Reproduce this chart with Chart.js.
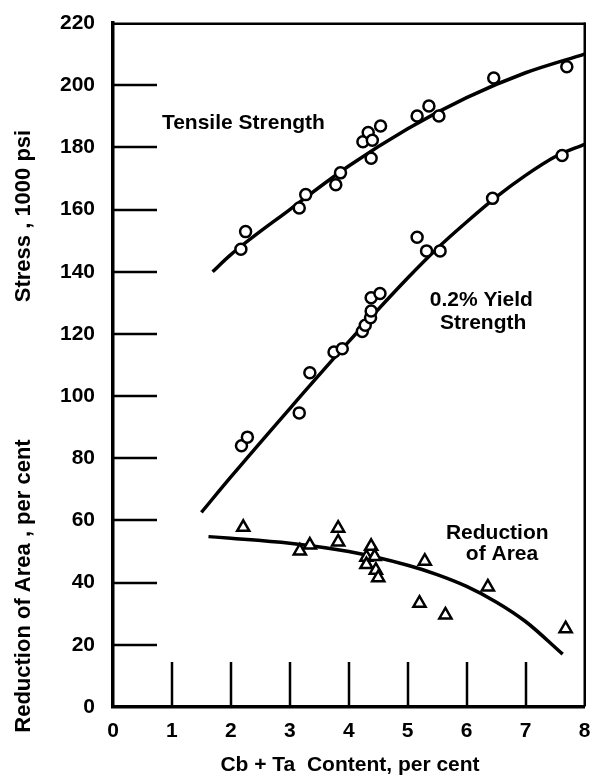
<!DOCTYPE html>
<html>
<head>
<meta charset="utf-8">
<script src="https://cdn.jsdelivr.net/npm/chart.js@4"></script>
<style>
  html, body { margin: 0; padding: 0; background: #fff; }
  #wrap { width: 594px; height: 776px; }
</style>
</head>
<body>
<div id="wrap"><canvas id="chart" width="594" height="776"></canvas></div>
<script>
// axis ticks
const xTicks = [0, 1, 2, 3, 4, 5, 6, 7, 8];
const yTicks = [0, 20, 40, 60, 80, 100, 120, 140, 160, 180, 200, 220];

// tensile strength (1000 psi), circles
const tensileX = [2.17, 2.25, 3.16, 3.27, 3.78, 3.86, 4.24, 4.33, 4.38, 4.40, 4.54, 5.16, 5.36, 5.53, 6.46, 7.70];
const tensileY = [147.2, 152.9, 160.5, 164.8, 168, 171.8, 181.8, 184.8, 176.5, 182.3, 186.9, 190.1, 193.3, 190.1, 202.3, 205.9];
const tensileCurveX = [1.69, 2, 3, 4, 5, 6, 7, 8];
const tensileCurveY = [140, 145.5, 160, 174, 186, 196, 204, 210];

// 0.2% yield strength (1000 psi), circles
const yieldX = [2.18, 2.28, 3.16, 3.34, 3.75, 3.89, 4.23, 4.28, 4.37, 4.38, 4.38, 4.53, 5.16, 5.32, 5.55, 6.44, 7.62];
const yieldY = [84, 86.8, 94.6, 107.5, 114.2, 115.2, 120.8, 122.8, 125.2, 127.4, 131.6, 133, 151.1, 146.7, 146.7, 163.6, 177.4];
const yieldCurveX = [1.50, 2, 3, 4, 5, 5.5, 6, 6.5, 7, 7.5, 8];
const yieldCurveY = [62.6, 74, 96, 117.5, 138, 147.5, 156, 164, 171, 177, 181];

// reduction of area (per cent), triangles
const reductionX = [2.21, 3.17, 3.34, 3.82, 3.82, 4.30, 4.30, 4.38, 4.44, 4.46, 4.50, 5.20, 5.29, 5.64, 6.36, 7.68];
const reductionY = [57.8, 50.2, 52.1, 57.5, 53.1, 48.2, 45.8, 51.7, 48.4, 44, 41.6, 33.4, 46.9, 29.6, 38.6, 25.2];
const reductionCurveX = [1.62, 2, 3, 4, 5, 5.5, 6, 6.5, 7, 7.63];
const reductionCurveY = [54.8, 54.3, 52.7, 50, 45.6, 42.6, 38.8, 33.8, 27.5, 17];

const pts = (xs, ys) => xs.map((x, i) => ({ x: x, y: ys[i] }));

const FONT = '"Liberation Sans", Arial, sans-serif';
Chart.defaults.font.family = FONT;
Chart.defaults.font.weight = 'bold';
Chart.defaults.color = '#000';

function curve(xs, ys) {
  return {
    type: 'line', data: pts(xs, ys), borderColor: '#000', borderWidth: 3.5,
    pointRadius: 0, fill: false, cubicInterpolationMode: 'monotone', order: 2
  };
}
function marks(xs, ys, style, r) {
  return {
    type: 'scatter', data: pts(xs, ys), pointStyle: style, pointRadius: r,
    borderColor: '#000', backgroundColor: '#fff', pointBorderWidth: 2.5, borderWidth: 2.5, order: 1
  };
}

// inner ticks, frame, notes and axis titles
const decor = {
  id: 'decor',
  beforeDatasetsDraw(chart) {
    const { ctx, chartArea: a, scales: { x, y } } = chart;
    ctx.save();
    ctx.strokeStyle = '#000';
    ctx.lineWidth = 2.5;
    ctx.beginPath();
    xTicks.slice(1, -1).forEach(v => {
      const px = Math.round(x.getPixelForValue(v));
      ctx.moveTo(px, a.bottom);
      ctx.lineTo(px, a.bottom - 45);
    });
    yTicks.slice(1, -1).forEach(v => {
      const py = Math.round(y.getPixelForValue(v));
      ctx.moveTo(a.left, py);
      ctx.lineTo(a.left + 44, py);
    });
    ctx.stroke();
    ctx.restore();
  },
  afterDraw(chart) {
    const { ctx, chartArea: a, scales: { x, y } } = chart;
    const top = y.getPixelForValue(yTicks[yTicks.length - 1]);
    const right = x.getPixelForValue(xTicks[xTicks.length - 1]);
    ctx.save();
    // top and right edges
    ctx.fillStyle = '#000';
    ctx.fillRect(a.left, top - 0.5, right - a.left + 1, 2.5);
    ctx.fillRect(right - 1, top - 0.5, 2.5, a.bottom - top);

    ctx.font = 'bold 21px ' + FONT;
    ctx.textBaseline = 'middle';
    ctx.textAlign = 'left';
    ctx.fillText('Tensile Strength', x.getPixelForValue(0.83), y.getPixelForValue(187.9));
    ctx.textAlign = 'center';
    ctx.fillText('0.2% Yield', x.getPixelForValue(6.25), y.getPixelForValue(130.7));
    ctx.fillText('Strength', x.getPixelForValue(6.28), y.getPixelForValue(123.3));
    ctx.fillText('Reduction', x.getPixelForValue(6.52), y.getPixelForValue(55.9));
    ctx.fillText('of Area', x.getPixelForValue(6.60), y.getPixelForValue(49.1));

    ctx.fillText('Cb + Ta  Content, per cent', 350, 765);

    ctx.font = 'bold 22px ' + FONT;
    ctx.translate(24, 216);
    ctx.rotate(-Math.PI / 2);
    ctx.fillText('Stress , 1000 psi', 0, 0);
    ctx.rotate(Math.PI / 2);
    ctx.translate(0, 370);
    ctx.rotate(-Math.PI / 2);
    ctx.fillText('Reduction of Area , per cent', 0, 0);
    ctx.restore();
  }
};

new Chart(document.getElementById('chart'), {
  data: {
    datasets: [
      curve(tensileCurveX, tensileCurveY),
      curve(yieldCurveX, yieldCurveY),
      curve(reductionCurveX, reductionCurveY),
      marks(tensileX, tensileY, 'circle', 5.5),
      marks(yieldX, yieldY, 'circle', 5.5),
      marks(reductionX, reductionY, 'triangle', 7)
    ]
  },
  options: {
    responsive: false,
    animation: false,
    layout: { padding: { top: 23, right: 9, left: 0, bottom: 0 } },
    plugins: { legend: { display: false }, tooltip: { enabled: false } },
    scales: {
      x: {
        type: 'linear', min: 0, max: 8,
        afterFit: s => { s.height = 69; s.paddingLeft = 0; s.paddingRight = 0; },
        ticks: { stepSize: 1, padding: 12, font: { size: 21, weight: 'bold' }, color: '#000', maxRotation: 0 },
        grid: { drawOnChartArea: false, drawTicks: false },
        border: { display: true, color: '#000', width: 3.5 }
      },
      y: {
        type: 'linear', min: 0, max: 220,
        afterFit: s => { s.width = 113; s.paddingTop = 0; s.paddingBottom = 0; },
        ticks: { stepSize: 20, padding: 18, font: { size: 21, weight: 'bold' }, color: '#000' },
        grid: { drawOnChartArea: false, drawTicks: false },
        border: { display: true, color: '#000', width: 3.5 }
      }
    }
  },
  plugins: [decor]
});
</script>
</body>
</html>
